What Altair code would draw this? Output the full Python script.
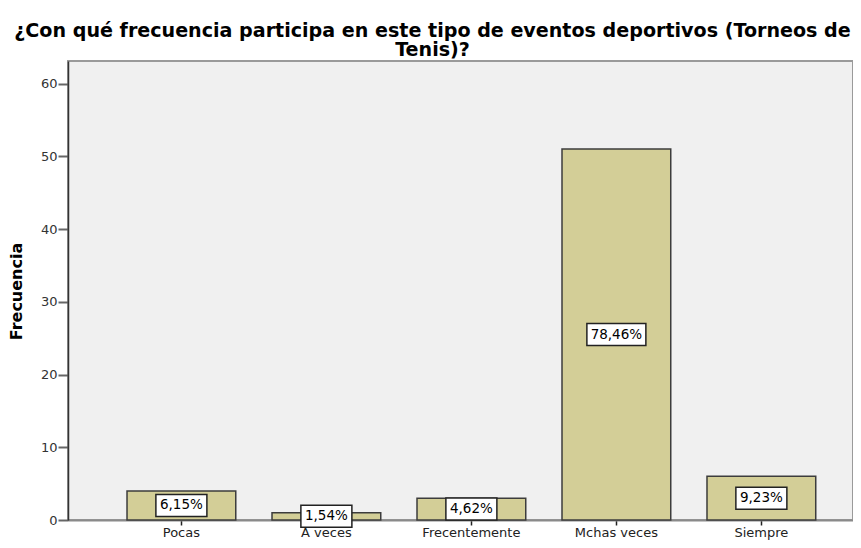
import altair as alt
import pandas as pd

# ---- data ----
categories = ["Pocas", "A veces", "Frecentemente", "Mchas veces", "Siempre"]
counts = [4, 1, 3, 51, 6]
pct_labels = ["6,15%", "1,54%", "4,62%", "78,46%", "9,23%"]
y_ticks = [0, 10, 20, 30, 40, 50, 60]
title_lines = [
    "¿Con qué frecuencia participa en este tipo de eventos deportivos (Torneos de",
    "Tenis)?",
]

df = pd.DataFrame({"cat": categories, "n": counts, "lab": pct_labels})

FONT = "DejaVu Sans"
BOX5 = "M-0.85,-0.367H0.85V0.367H-0.85Z"
BOX6 = "M-0.983,-0.367H0.983V0.367H-0.983Z"

x_scale = alt.Scale(paddingInner=0.25, paddingOuter=0.332, align=0.613)
x_axis = alt.Axis(
    labelAngle=0, labelFont=FONT, labelFontSize=13, labelColor="#222",
    tickColor="#222", tickSize=5, tickWidth=1.5, labelPadding=1,
    labelBaseline="top", domainColor="#8a8a8a", domainWidth=2,
)
y_scale = alt.Scale(domain=[0, 63.1], nice=False)
y_axis = alt.Axis(
    values=y_ticks, grid=False, labelFont=FONT, labelFontSize=13,
    labelColor="#333", tickColor="#666", tickWidth=2, tickSize=10,
    labelPadding=1, domainColor="#333", domainWidth=1.5,
    titleFont=FONT, titleFontSize=16, titleFontWeight="bold",
    titleColor="black", titleX=-52, titleY=230,
    titleAlign="center", titleBaseline="middle",
)

base = alt.Chart(df)

bars = base.mark_bar(fill="#d3ce97", stroke="#3c3c3c", strokeWidth=1.5).encode(
    x=alt.X("cat:N", sort=categories, title=None, scale=x_scale, axis=x_axis),
    y=alt.Y("n:Q", scale=y_scale, title="Frecuencia", axis=y_axis),
)

boxes = base.transform_calculate(
    mid="datum.n / 2", blen="length(datum.lab)"
).mark_point(
    filled=True, fill="white", stroke="#222", strokeWidth=1.5,
    size=3600, opacity=1, fillOpacity=1, strokeOpacity=1,
).encode(
    x=alt.X("cat:N", sort=categories, title=None, scale=x_scale, axis=x_axis),
    y=alt.Y("mid:Q", scale=y_scale, title="Frecuencia", axis=y_axis),
    shape=alt.Shape("blen:N", scale=alt.Scale(domain=[5, 6], range=[BOX5, BOX6]), legend=None),
)

texts = base.transform_calculate(mid="datum.n / 2").mark_text(
    font=FONT, fontSize=13.5, color="black", align="center", baseline="middle"
).encode(
    x=alt.X("cat:N", sort=categories, title=None, scale=x_scale, axis=x_axis),
    y=alt.Y("mid:Q", scale=y_scale, title="Frecuencia", axis=y_axis),
    text="lab:N",
)

chart = (
    alt.layer(bars, boxes, texts)
    .properties(
        width=785,
        height=459,
        autosize=alt.AutoSizeParams(type="none"),
        padding={"left": 60, "top": 53, "right": 0, "bottom": 20},
        background="white",
        title=alt.TitleParams(
            text=title_lines, font=FONT, fontSize=19.1, fontWeight="bold",
            color="black", lineHeight=19, anchor="middle", dx=-28, offset=1,
        ),
    )
    .configure_view(fill="#f0f0f0", stroke="#9a9a9a", strokeWidth=2)
)

chart.save("out.html", embed_options={"renderer": "svg", "actions": False})
